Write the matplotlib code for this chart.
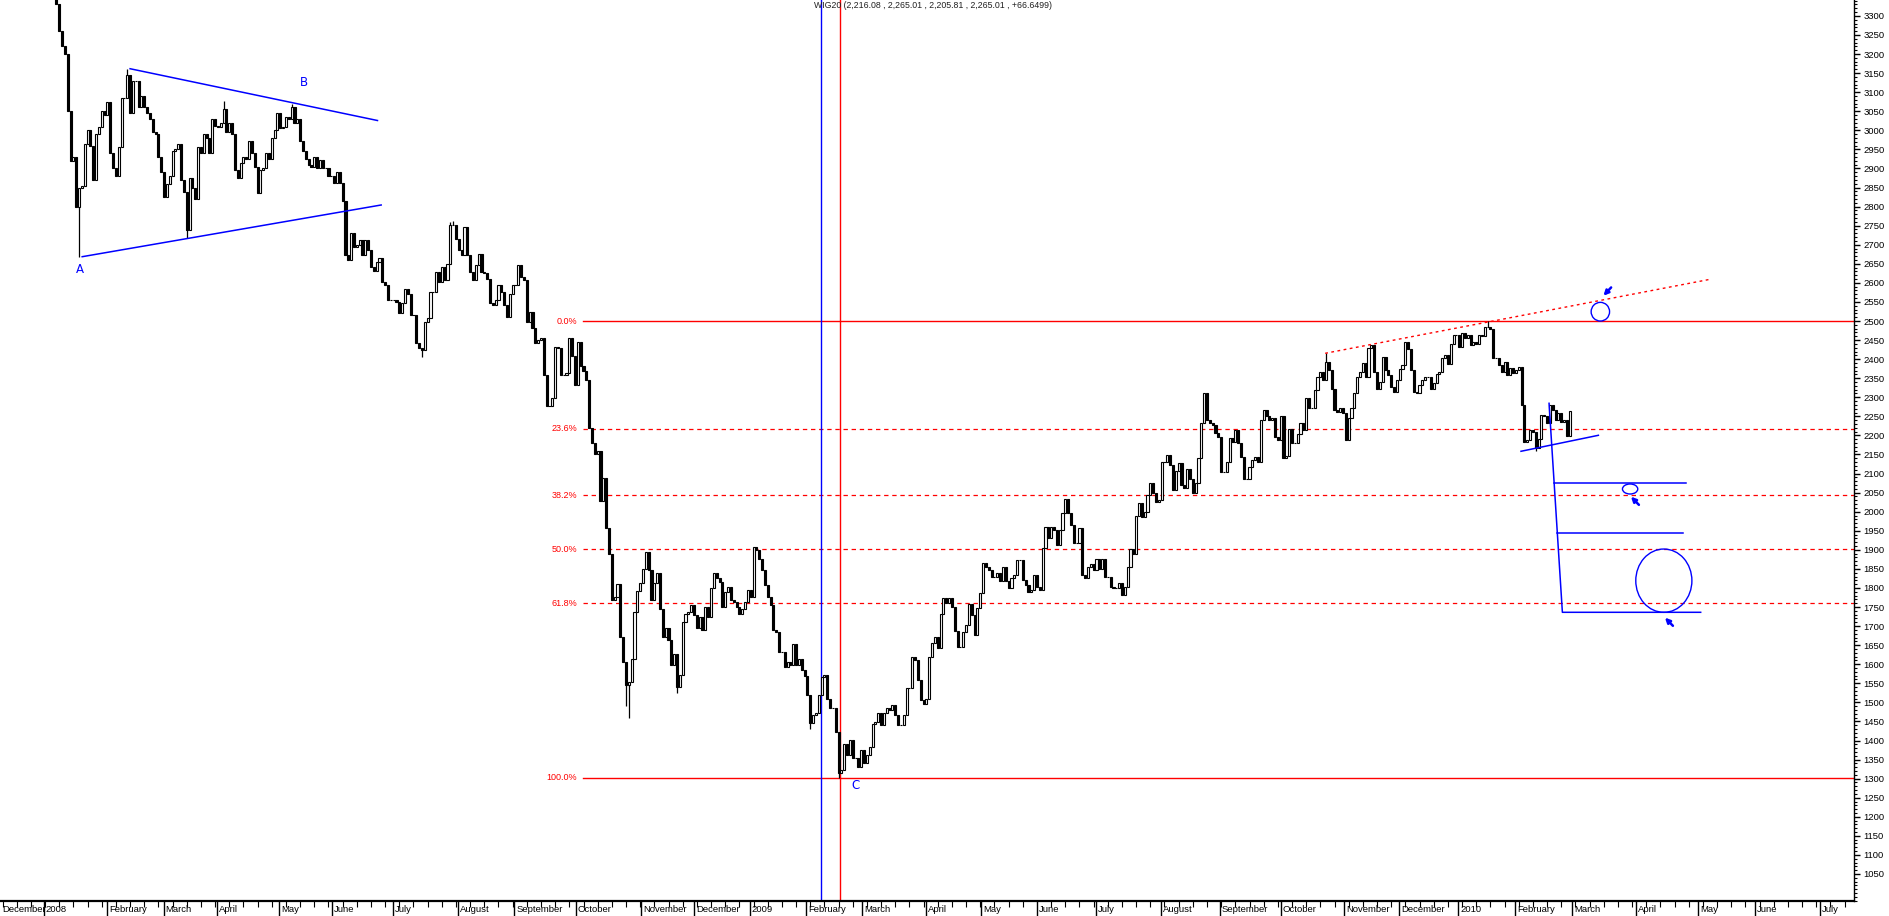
import matplotlib
matplotlib.use('Agg')
import matplotlib.pyplot as plt
import matplotlib.transforms as mtransforms
from matplotlib.patches import Ellipse
from matplotlib.ticker import FixedLocator, MultipleLocator
import numpy as np

# WIG20 daily closes (one value per session)
close_2008_h1 = [3450, 3440, 3410, 3380, 3330, 3260, 3220, 3200, 3050, 2920,
                 2930, 2800, 2850, 2855, 2965, 3000, 2960, 2870, 2990, 3010,
                 3050, 3040, 3075, 2940, 2900, 2880, 2955, 3085, 3085, 3145,
                 3046, 3130, 3130, 3060, 3090, 3060, 3045, 3030, 2995, 2990,
                 2930, 2890, 2825, 2860, 2880, 2947, 2952, 2965, 2870, 2838,
                 2738, 2874, 2850, 2820, 2955, 2940, 2990, 2980, 2940, 3030,
                 3012, 3008, 3020, 3057, 2995, 3020, 2990, 2895, 2874, 2913,
                 2930, 2926, 2973, 2940, 2905, 2835, 2895, 2900, 2940, 2926,
                 2980, 3000, 3046, 3005, 3010, 3035, 3030, 3060, 3020, 3030,
                 2973, 2947, 2925, 2908, 2905, 2930, 2900, 2921, 2900, 2900,
                 2880, 2880, 2863, 2890, 2863, 2814, 2672, 2660, 2730]
close_2008_q3 = [2694, 2700, 2712, 2672, 2712, 2685, 2642, 2630, 2655, 2664,
                 2603, 2594, 2555, 2555, 2555, 2550, 2520, 2546, 2585, 2570,
                 2516, 2516, 2442, 2430, 2425, 2498, 2507, 2576, 2576, 2629,
                 2603, 2642, 2607, 2650, 2751, 2751, 2716, 2686, 2672, 2747,
                 2672, 2629, 2607, 2646, 2677, 2629, 2625, 2611, 2546, 2542,
                 2555, 2594, 2577, 2542, 2511, 2572, 2594, 2594, 2646, 2616,
                 2607, 2498, 2524, 2481, 2442, 2450, 2455, 2358, 2276, 2276,
                 2298, 2433, 2430, 2358, 2358, 2363, 2455, 2407, 2332, 2446,
                 2381, 2368, 2346, 2220, 2180, 2150, 2158, 2028, 2089, 1958,
                 1888, 1768]
close_2008_q4 = [1777, 1810, 1672, 1607, 1545, 1554, 1615, 1738, 1791, 1812,
                 1851, 1893, 1847, 1768, 1812, 1840, 1746, 1672, 1694, 1663,
                 1598, 1628, 1540, 1572, 1712, 1733, 1737, 1755, 1729, 1694,
                 1724, 1690, 1751, 1724, 1799, 1838, 1825, 1816, 1751, 1790,
                 1803, 1768, 1764, 1750, 1733, 1746, 1764, 1795, 1777, 1908,
                 1900, 1877, 1847, 1808, 1777, 1755, 1690, 1685, 1633, 1633,
                 1594, 1606, 1598, 1653, 1598, 1615, 1585, 1570, 1519, 1445,
                 1466, 1471, 1519, 1567, 1572, 1510, 1484, 1484, 1423, 1314,
                 1322, 1392, 1362, 1401, 1353, 1353, 1331, 1374, 1340, 1362,
                 1384, 1444, 1449, 1471, 1440, 1471, 1484, 1480, 1493]
close_2009_h1 = [1467, 1441, 1441, 1467, 1537, 1537, 1620, 1612, 1559, 1506,
                 1497, 1510, 1620, 1655, 1672, 1642, 1733, 1773, 1760, 1773,
                 1751, 1686, 1646, 1646, 1685, 1703, 1758, 1729, 1676, 1747,
                 1786, 1865, 1855, 1847, 1829, 1829, 1838, 1817, 1855, 1817,
                 1799, 1825, 1834, 1873, 1873, 1821, 1808, 1790, 1795, 1834,
                 1803, 1795, 1904, 1961, 1930, 1961, 1952, 1912, 1952, 1997,
                 2032, 1997, 1965, 1917, 1917, 1956, 1834, 1825, 1855, 1864,
                 1847, 1877, 1851, 1877, 1829, 1829, 1803, 1799, 1799, 1812,
                 1782, 1803, 1856, 1901, 1889, 1989, 2022, 1987, 2000, 2044,
                 2074, 2048, 2026, 2030, 2131, 2131, 2149, 2122, 2057, 2108,
                 2127, 2070]
close_2009_h2 = [2061, 2112, 2087, 2048, 2074, 2140, 2232, 2310, 2241, 2232,
                 2227, 2206, 2197, 2105, 2105, 2131, 2192, 2183, 2214, 2180,
                 2144, 2087, 2087, 2118, 2136, 2144, 2131, 2240, 2267, 2250,
                 2240, 2245, 2197, 2188, 2250, 2140, 2145, 2218, 2180, 2180,
                 2205, 2232, 2214, 2297, 2271, 2271, 2319, 2354, 2367, 2345,
                 2393, 2372, 2323, 2267, 2262, 2271, 2258, 2188, 2245, 2271,
                 2310, 2354, 2367, 2389, 2354, 2428, 2437, 2367, 2323, 2341,
                 2406, 2372, 2358, 2327, 2313, 2345, 2375, 2385, 2446, 2426,
                 2372, 2315, 2310, 2332, 2345, 2352, 2354, 2323, 2337, 2362,
                 2367, 2402, 2412, 2386, 2441, 2463, 2463, 2433, 2468, 2455,
                 2463, 2437, 2446, 2441]
close_2010 = [2463, 2460, 2485, 2485, 2480, 2402, 2402, 2385, 2367, 2393,
              2358, 2376, 2363, 2372, 2380, 2280, 2184, 2189, 2214, 2210,
              2166, 2190, 2253, 2250, 2232, 2280, 2267, 2240, 2258, 2236,
              2240, 2198, 2265]
first_open = 3456

# wicks that stand out from the bodies (session index -> price)
wick_high = {29: 3162, 63: 3078, 87: 3070, 143: 2760, 144: 2762, 452: 2415, 509: 2500}
wick_low = {12: 2668, 50: 2718, 133: 2405, 205: 1490, 206: 1458, 223: 1524,
            270: 1430, 280: 1303, 526: 2160}

# month ticks (session index) and their labels
month_pos = [-21.0, -0.5, 21.8, 41.8, 60.7, 82.5, 101.3, 122.7, 145.6, 165.5, 187.3,
             210.2, 229.0, 248.7, 268.5, 288.2, 310.9, 330.3, 350.0, 370.9, 393.8,
             414.6, 436.1, 458.4, 477.8, 498.6, 518.7, 538.8, 561.4, 583.3, 603.4, 626.3]
month_names = ['December', '2008', 'February', 'March', 'April', 'May', 'June', 'July',
               'August', 'September', 'October', 'November', 'December', '2009',
               'February', 'March', 'April', 'May', 'June', 'July', 'August',
               'September', 'October', 'November', 'December', '2010', 'February',
               'March', 'April', 'May', 'June', 'July']

# fibonacci retracement from the 2009 low to the 2010 high
fib_high = 2500
fib_low = 1303
fib_levels = [0.0, 23.6, 38.2, 50.0, 61.8, 100.0]

# hand drawn trend lines (session index, price)
tri_upper = ([30.0, 117.3], [3161.5, 3025.7])
tri_lower = ([13.1, 118.6], [2668.6, 2804.2])
resist_line = ([451.7, 587.5], [2415.3, 2609.3])
support_line = ([520.8, 548.1], [2158.4, 2200.3])
drop_line = ([530.7, 535.4, 584.2], [2284.2, 1736.2, 1736.2])
target_lines = [([532.6, 579.0], 2074.5), ([533.6, 577.9], 1943.3)]
circles = [(548.8, 2524.4, 6.5, 49.0), (559.3, 2059.5, 5.4, 26.2), (571.2, 1819.1, 19.8, 166.0)]
arrows = [((549.9, 2566.3), (552.6, 2588.0)),
          ((559.6, 2039.3), (562.4, 2018.0)),
          ((571.6, 1722.1), (574.4, 1700.8))]
points = [('A', 12.2, 2635), ('B', 91.4, 3125), ('C', 285.8, 1283)]
v_blue = 273.8
v_red = 280.5

title = 'WIG20 (2,216.08 , 2,265.01 , 2,205.81 , 2,265.01 , +66.6499)'

blue = '#0000FF'
red = '#FF0000'
small_font = ['Liberation Sans Narrow', 'Liberation Sans', 'DejaVu Sans']

fig = plt.figure(figsize=(18.9, 9.16), dpi=100, facecolor='white')
ax = fig.add_axes([0, 15 / 916, 1854 / 1890, 1 - 15 / 916])
ax.set_xlim(-15.9, 638.3)
ax.set_ylim(979.2, 3341.7)

closes = np.array(close_2008_h1 + close_2008_q3 + close_2008_q4 +
                  close_2009_h1 + close_2009_h2 + close_2010, dtype=float)
opens = np.concatenate([[first_open], closes[:-1]])
x = np.arange(len(closes))
up = closes >= opens

#wicks first, bodies on top
for i, h in wick_high.items():
    ax.vlines(i, max(opens[i], closes[i]), h, color='black', lw=0.9, zorder=3)
for i, l in wick_low.items():
    ax.vlines(i, l, min(opens[i], closes[i]), color='black', lw=0.9, zorder=3)
ax.bar(x, np.abs(closes - opens), bottom=np.minimum(opens, closes), width=0.74,
       color=np.where(up, 'white', 'black'), edgecolor='black', linewidth=0.8, zorder=4)

# fibonacci lines
rng = fib_high - fib_low
for lev in fib_levels:
    y = fib_high - rng * lev / 100
    if lev in (0.0, 100.0):
        ax.plot([189.8, 638.3], [y, y], color=red, lw=1.0, zorder=2)
    else:
        ax.plot([189.8, 638.3], [y, y], color=red, lw=0.9, ls=(0, (3.5, 3)), zorder=2)
    ax.text(187.7, y, '%.1f%%' % lev, color=red, fontsize=6.5, ha='right', va='center',
            family=small_font)

ax.axvline(v_blue, color=blue, lw=1.0, zorder=2)
ax.axvline(v_red, color=red, lw=1.0, zorder=2)

# annotations
ax.plot(*tri_upper, color=blue, lw=1.1, zorder=5)
ax.plot(*tri_lower, color=blue, lw=1.1, zorder=5)
ax.plot(*resist_line, color=red, lw=1.0, ls=(0, (2, 2.5)), zorder=5)
ax.plot(*support_line, color=blue, lw=1.1, zorder=5)
ax.plot(*drop_line, color=blue, lw=1.1, zorder=5)
for xs, y in target_lines:
    ax.plot(xs, [y, y], color=blue, lw=1.1, zorder=5)
for cx, cy, w, h in circles:
    ax.add_patch(Ellipse((cx, cy), w, h, fill=False, edgecolor=blue, lw=1.0, zorder=5))
for tip, tail in arrows:
    ax.annotate('', xy=tip, xytext=tail, zorder=6,
                arrowprops=dict(arrowstyle='-|>', color=blue, lw=1.8, mutation_scale=7,
                                shrinkA=0, shrinkB=0))
for name, px, py in points:
    ax.text(px, py, name, color=blue, fontsize=8.5, ha='center', va='center')

# axes look
for s in ['left', 'top']:
    ax.spines[s].set_visible(False)
ax.spines['bottom'].set_linewidth(1.6)
ax.spines['right'].set_linewidth(1.0)

ax.yaxis.tick_right()
ax.yaxis.set_major_locator(FixedLocator(np.arange(1050, 3301, 50)))
ax.yaxis.set_minor_locator(MultipleLocator(10))
ax.tick_params(axis='y', which='major', length=4, width=1, pad=3, labelsize=6.8)
ax.tick_params(axis='y', which='minor', length=2, width=0.8)
for lab in ax.get_yticklabels():
    lab.set_family(['Liberation Sans', 'DejaVu Sans'])

ax.xaxis.set_major_locator(FixedLocator(month_pos))
ax.xaxis.set_minor_locator(FixedLocator(np.arange(-20, 640, 5)))
ax.set_xticklabels([])
ax.tick_params(axis='x', which='major', length=11, width=1)
ax.tick_params(axis='x', which='minor', length=4, width=0.8)

trans = mtransforms.blended_transform_factory(ax.transData, fig.transFigure)
for pos, name in zip(month_pos, month_names):
    ax.text(max(pos, -15.9) + 0.7, 2 / 916, name, transform=trans, fontsize=6.8,
            ha='left', va='bottom', family=small_font, clip_on=False)

fig.text(814 / 1890, 1 - 5 / 916, title, fontsize=6.3, ha='left', va='center',
         color='#202020', family=small_font)

fig.savefig('out.png', dpi=100, facecolor='white')
